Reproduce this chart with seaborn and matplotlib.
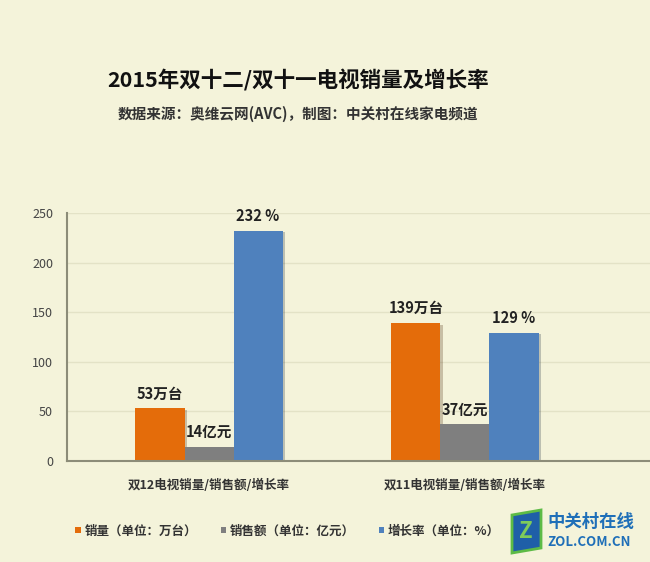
import matplotlib
matplotlib.use("Agg")
import matplotlib.pyplot as plt
import matplotlib.patches as mpatches
import matplotlib.patheffects as pe
import seaborn as sns
import pandas as pd

categories = ["双12电视销量/销售额/增长率", "双11电视销量/销售额/增长率"]
series = ["销量（单位：万台）", "销售额（单位：亿元）", "增长率（单位：%）"]
sales_volume = [53, 139]
sales_amount = [14, 37]
growth_rate = [232, 129]
bar_labels = [["53万台", "139万台"], ["14亿元", "37亿元"], ["232 %", "129 %"]]
yticks = [0, 50, 100, 150, 200, 250]

colors = ["#E46C0A", "#7F7F7F", "#4F81BD"]
bg = "#F4F3DA"

rows = []
for s, vals in zip(series, [sales_volume, sales_amount, growth_rate]):
    for c, v in zip(categories, vals):
        rows.append({"cat": c, "series": s, "value": v})
df = pd.DataFrame(rows)

sns.set_style("white")
plt.rcParams["font.family"] = ["Noto Sans CJK SC", "DejaVu Sans"]

fig = plt.figure(figsize=(6.5, 5.62), dpi=100, facecolor=bg)
ax = fig.add_axes([67 / 650, 1 - 461 / 562, 1 - 67 / 650, (461 - 213) / 562])
ax.set_facecolor(bg)

sns.barplot(data=df, x="cat", y="value", hue="series", order=categories,
            hue_order=series, palette=colors, width=0.575, saturation=1,
            ax=ax, legend=True, linewidth=0)

ax.set_ylim(0, 250)
ax.set_xlim(-0.555, 1.723)
ax.set_yticks(yticks)
ax.set_yticklabels([str(t) for t in yticks], fontsize=9, color="#444444")
ax.tick_params(axis="y", length=0, pad=10)
ax.tick_params(axis="x", length=0, pad=13)
for lbl in ax.get_xticklabels():
    lbl.set_fontsize(9)
    lbl.set_fontweight("bold")
    lbl.set_color("#333333")
ax.set_xlabel("")
ax.set_ylabel("")
ax.grid(axis="y", color="#E3E2C6", linewidth=1)
ax.set_axisbelow(True)
for sp in ["top", "right"]:
    ax.spines[sp].set_visible(False)
for sp in ["left", "bottom"]:
    ax.spines[sp].set_color("#8C8C78")
    ax.spines[sp].set_linewidth(1.5)

for cont, labs in zip(ax.containers, bar_labels):
    ax.bar_label(cont, labels=labs, padding=5, fontsize=10.5, fontweight="bold",
                 color="#222222", clip_on=False)

handles, labels = ax.get_legend_handles_labels()
ax.get_legend().remove()
fig.legend(handles, labels, loc="center left", bbox_to_anchor=(0.098, 1 - 531 / 562),
           ncol=3, frameon=False, handlelength=0.45, handleheight=0.45,
           handletextpad=0.3, columnspacing=1.9,
           prop={"size": 9, "weight": "bold"}, labelcolor="#333333")

for cont in ax.containers:
    for p in cont:
        p.set_path_effects([pe.SimplePatchShadow(offset=(1.5, -1), alpha=0.25), pe.Normal()])

fig.text(0.458, 1 - 80 / 562, "2015年双十二/双十一电视销量及增长率", ha="center",
         va="center", fontsize=15.5, fontweight="bold", color="#111111")
fig.text(0.458, 1 - 114 / 562, "数据来源：奥维云网(AVC)，制图：中关村在线家电频道",
         ha="center", va="center", fontsize=10.5, fontweight="bold", color="#333333")

# ZOL logo
logo = mpatches.Polygon([[512 / 650, 1 - 515 / 562], [541 / 650, 1 - 510 / 562],
                         [541 / 650, 1 - 548 / 562], [512 / 650, 1 - 553 / 562]],
                        closed=True, transform=fig.transFigure, facecolor="#1F5FA8",
                        edgecolor="#5DBB46", linewidth=2)
fig.patches.append(logo)
fig.text(526 / 650, 1 - 531 / 562, "Z", ha="center", va="center", fontsize=16,
         fontweight="bold", color="#7FCB5A")
fig.text(547 / 650, 1 - 522 / 562, "中关村在线", ha="left", va="center", fontsize=12.5,
         fontweight="bold", color="#1F6FB8")
fig.text(547 / 650, 1 - 542 / 562, "ZOL.COM.CN", ha="left", va="center", fontsize=9.5,
         fontweight="bold", color="#1F6FB8")

fig.savefig("out.png", dpi=100, facecolor=bg)
